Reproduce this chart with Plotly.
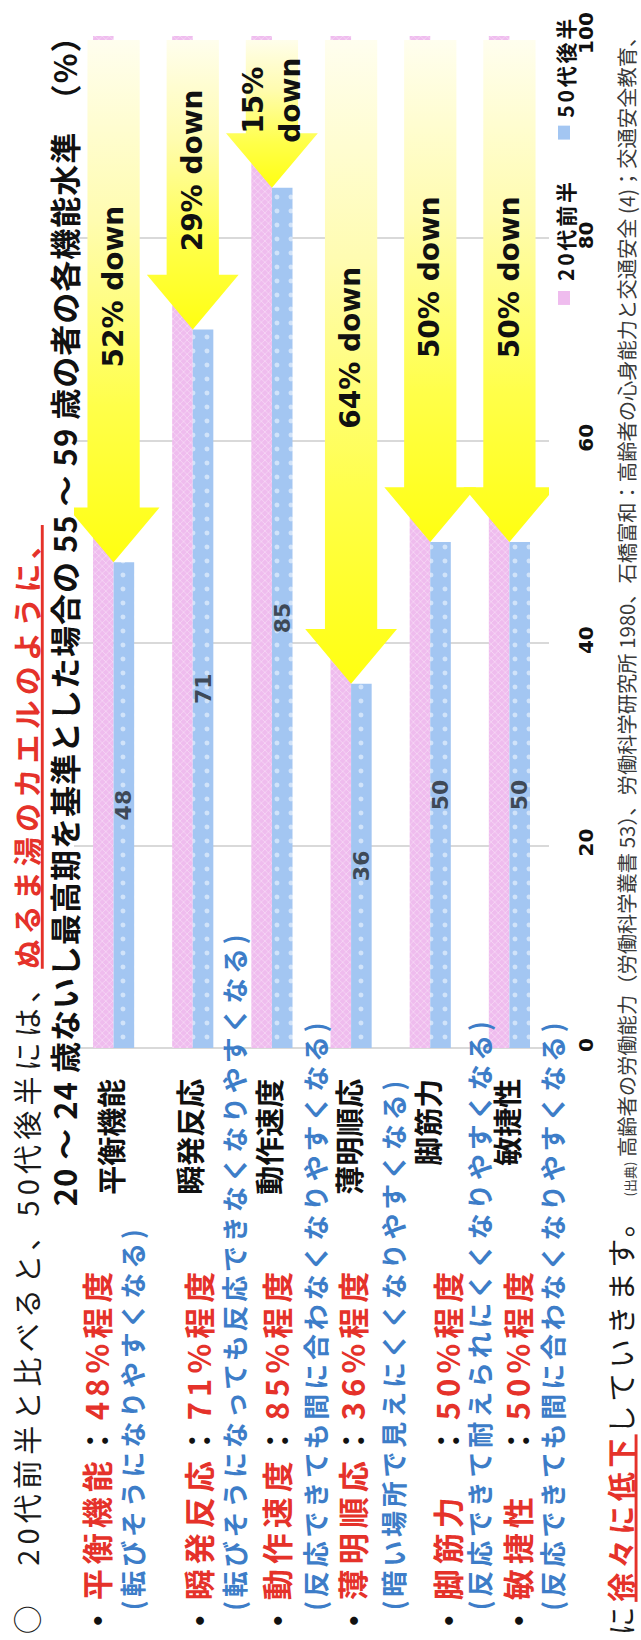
import plotly.graph_objects as go

# ---------------- data ----------------
categories = ["平衡機能", "瞬発反応", "動作速度", "薄明順応", "脚筋力", "敏捷性"]
early20s = [100, 100, 100, 100, 100, 100]          # 20代前半 (基準)
late50s = [48, 71, 85, 36, 50, 50]                 # 50代後半
drop_labels = ["52% down", "29% down", "15%<br>down", "64% down", "50% down", "50% down"]
y_ticks = [0, 20, 40, 60, 80, 100]
series_names = ["20代前半", "50代後半"]

bullet_pad = ["", "", "", "", "　", "　"]
bullet_notes = [
    "(転びそうになりやすくなる)",
    "(転びそうになっても反応できなくなりやすくなる)",
    "(反応できても間に合わなくなりやすくなる)",
    "(暗い場所で見えにくくなりやすくなる)",
    "(反応できて耐えられにくくなりやすくなる)",
    "(反応できても間に合わなくなりやすくなる)",
]
chart_title = "20 ～ 24 歳ないし最高期を基準とした場合の 55 ～ 59 歳の者の各機能水準　（%）"
lead_black = "○　20代前半と比べると、50代後半には、"
lead_red = "ぬるま湯のカエルのように、"
tail_black1 = "に"
tail_red = "徐々に低下"
tail_black2 = "していきます。"
source_small = "(出典)"
source_text = " 高齢者の労働能力（労働科学叢書 53）、労働科学研究所 1980、石橋富和：高齢者の心身能力と交通安全 (4)；交通安全教育、"

# ---------------- styling ----------------
JP = "Noto Sans CJK JP"
LAT = "DejaVu Sans"
RED = "#e5322a"
BLUE_TXT = "#3d7dc8"
PINK = "#efbcee"
BLUE = "#a3c6f2"

W, H = 641, 1640
L, R, T, B = 74, 549, 32, 1048   # plot area in pixels


def px(x):
    return (x - L) / (R - L)


def py(y):
    return (B - y) / (B - T)


annotations = []


def rot(text, xc, y, size, color="#111", weight="normal", ls=0, anchor="bottom", family=JP):
    if ls:
        text = f"<span style='letter-spacing:{ls}px'>{text}</span>"
    annotations.append(dict(
        text=text, x=px(xc), y=py(y), xref="paper", yref="paper",
        xanchor="center", yanchor=anchor, textangle=-90, showarrow=False,
        font=dict(family=family, size=size, color=color, weight=weight),
        borderpad=0,
    ))


fig = go.Figure()
xs_idx = list(range(len(categories)))

fig.add_bar(
    x=xs_idx, y=early20s, name=series_names[0], showlegend=False, hoverinfo="skip",
    marker=dict(color=PINK, line=dict(width=0),
                pattern=dict(shape="x", fgcolor="white", size=5, solidity=0.25)),
)
fig.add_bar(
    x=xs_idx, y=late50s, name=series_names[1], showlegend=False, hoverinfo="skip",
    text=[str(v) for v in late50s], textposition="inside", insidetextanchor="middle",
    textangle=-90, constraintext="none",
    insidetextfont=dict(family=LAT, size=22, color="#3e4957", weight="bold"),
    marker=dict(color=BLUE, line=dict(width=0),
                pattern=dict(shape=".", fgcolor="white", size=14, solidity=0.1)),
)

# yellow "down" arrows from the 20代前半 level to the 50代後半 level
SW, HW, HL = 0.33, 0.58, 5.4
for i, (top, v) in enumerate(zip(early20s, late50s)):
    top_y = top - 0.4
    xs = [i - SW, i + SW, i + SW, i + HW, i, i - HW, i - SW, i - SW]
    ys = [top_y, top_y, v + HL, v + HL, v, v + HL, v + HL, top_y]
    fig.add_trace(go.Scatter(
        x=xs, y=ys, mode="lines", fill="toself", showlegend=False, hoverinfo="skip",
        line=dict(width=0, color="rgba(0,0,0,0)"),
        fillgradient=dict(type="vertical", start=v, stop=top,
                          colorscale=[[0, "#ffff10"], [0.3, "#ffff4a"],
                                      [0.65, "#fffcb0"], [1, "#fffef0"]]),
    ))
    ymid = (v + HL + top) / 2 - 1.5
    annotations.append(dict(
        text=drop_labels[i], x=i, y=ymid, xref="x", yref="y", showarrow=False,
        textangle=-90, font=dict(family=LAT, size=28, color="#111", weight="bold"),
    ))

# ---------------- texts around the chart ----------------
rot(f"{lead_black}<span style='color:{RED};font-weight:bold;text-decoration:underline'>{lead_red}</span>",
    26, 1638, 29, color="#1a1a1a", ls=5.2)
rot(chart_title, 63, 1208, 31, color="#111", weight="bold", ls=1.0)

red_x = [95, 197, 275, 351, 446, 516]
blue_x = [131, 234, 315, 392, 478, 552]
for name, pad, v, note, rx, bx in zip(categories, bullet_pad, late50s, bullet_notes, red_x, blue_x):
    t = (f"<span style='color:#111'>・</span>{name}{pad}<span style='color:#111'>：</span>{v}%程度")
    rot(t, rx, 1640, 31, color=RED, weight="bold", ls=5)
    rot(note, bx, 1614, 26, color=BLUE_TXT, weight="bold", ls=3.8)

rot(f"{tail_black1}<span style='color:{RED};font-weight:bold;text-decoration:underline'>{tail_red}</span>{tail_black2}",
    620, 1203, 29, color="#1a1a1a", ls=4.5, anchor="top")
rot(f"<span style='font-size:13px'>{source_small}</span>{source_text}", 626, 1198, 20.3, color="#3a3a3a")

# legend (drawn manually, rotated)
leg = [(series_names[0], PINK, 295, 279), (series_names[1], BLUE, 129, 115)]
shapes = []
for name, col, my, ty in leg:
    shapes.append(dict(type="rect", xref="paper", yref="paper",
                       x0=px(558), x1=px(570), y0=py(my + 7), y1=py(my - 7),
                       fillcolor=col, line=dict(width=0)))
    rot(name, 565, ty, 21, color="#111", weight="bold", ls=2.8)

fig.update_layout(
    width=W, height=H,
    margin=dict(l=L, r=W - R, t=T, b=H - B, pad=0),
    paper_bgcolor="white", plot_bgcolor="white",
    barmode="group", bargap=0.48, bargroupgap=0,
    annotations=annotations, shapes=shapes, showlegend=False,
    xaxis=dict(range=[-0.5, 5.5], tickvals=xs_idx, ticktext=categories, tickangle=-90,
               tickfont=dict(family=JP, size=29, color="#111", weight="bold"),
               showgrid=False, zeroline=False, showline=False, ticks="",
               ticklabelstandoff=24, fixedrange=True),
    yaxis=dict(range=[0, 100], tickvals=y_ticks, side="right", tickangle=-90,
               tickfont=dict(family=LAT, size=20, color="#111", weight="bold"),
               showgrid=True, gridcolor="#d9d9d9", gridwidth=1.5,
               zeroline=True, zerolinecolor="#d9d9d9", zerolinewidth=1.5,
               showline=False, ticks="", ticklabelstandoff=23, fixedrange=True),
)

fig.write_html("out.html")
